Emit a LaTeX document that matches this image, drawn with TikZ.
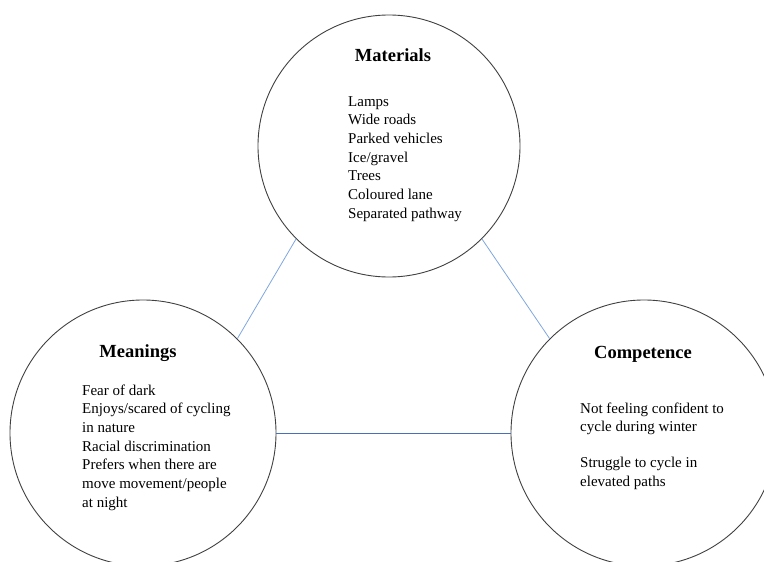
\documentclass[tikz,border=0pt]{standalone}
\usepackage{fontspec}
\setmainfont{Liberation Serif}
\definecolor{lightlink}{HTML}{7FA6E0}
\definecolor{darklink}{HTML}{4A6FB8}
\tikzset{
  bigcircle/.style={circle, draw=black!75, line width=0.9pt, inner sep=0pt, minimum size=#1},
  heading/.style={anchor=base, inner sep=0pt, font=\fontsize{18.5}{22}\selectfont\bfseries},
  listtext/.style={anchor=base west, inner sep=0pt, font=\fontsize{15}{18.7}\selectfont},
  lightline/.style={draw=lightlink, line width=0.8pt},
  darkline/.style={draw=darklink, line width=0.8pt}
}
\begin{document}
\begin{tikzpicture}[x=1pt,y=-1pt]
\useasboundingbox (0,0) rectangle (764,562);
\node[bigcircle=262pt] (mat) at (389,146) {};
\node[bigcircle=266pt] (mea) at (143,433) {};
\node[bigcircle=266pt] (com) at (644,433) {};

\node[heading] (matH) at (393,61) {Materials};
\node[listtext] (matL) at (348,106) {\begin{tabular}[t]{@{}l@{}}Lamps\\Wide roads\\Parked vehicles\\Ice/gravel\\Trees\\Coloured lane\\Separated pathway\end{tabular}};

\node[heading] (meaH) at (138,357) {Meanings};
\node[listtext] (meaL) at (82,395) {\begin{tabular}[t]{@{}l@{}}Fear of dark\\Enjoys/scared of cycling\\in nature\\Racial discrimination\\Prefers when there are\\move movement/people\\at night\end{tabular}};

\node[heading] (comH) at (643,358) {Competence};
\node[listtext] (comL) at (580,413) {\begin{tabular}[t]{@{}l@{}}Not feeling confident to\\cycle during winter\\[17pt]Struggle to cycle in\\elevated paths\end{tabular}};

\draw[lightline] (mat.225) -- (mea.45);
\draw[lightline] (mat.315) -- (com.135);
\draw[darkline] (mea.east) -- (com.west);
\end{tikzpicture}
\end{document}
